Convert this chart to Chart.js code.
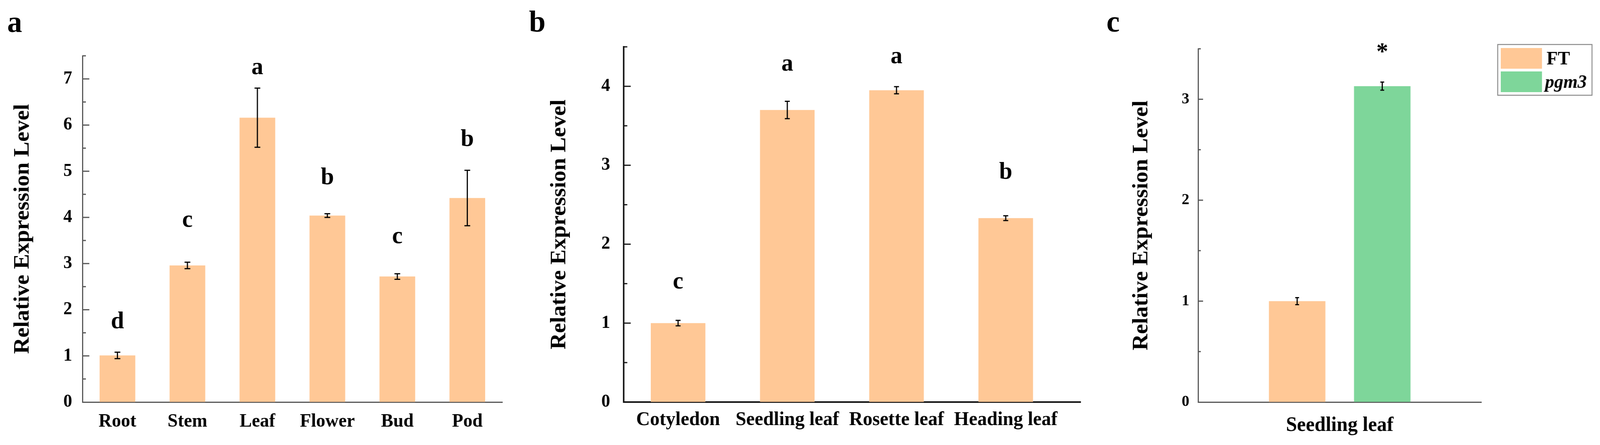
<!DOCTYPE html>
<html><head><meta charset="utf-8">
<script src="https://cdn.jsdelivr.net/npm/chart.js@4.4.1/dist/chart.umd.min.js"></script>
<style>
html,body{margin:0;padding:0;background:#fff;overflow:hidden;}
#wrap{position:relative;width:4192px;height:1140px;overflow:hidden;background:#fff;transform-origin:0 0;}
canvas{position:absolute;top:0;}
.pl{position:absolute;font:bold 78px/1 "Liberation Serif","Times New Roman",serif;color:#000;margin:0;}
</style></head>
<body><div id="wrap">
<div class="pl" style="left:19px;top:17px;">a</div>
<div class="pl" style="left:1386px;top:16px;">b</div>
<div class="pl" style="left:2899px;top:16px;">c</div>
<canvas id="ca" width="1380" height="1140" style="left:0px;width:1380px;height:1140px;"></canvas>
<canvas id="cb" width="1500" height="1140" style="left:1380px;width:1500px;height:1140px;"></canvas>
<canvas id="cc" width="1312" height="1140" style="left:2880px;width:1312px;height:1140px;"></canvas>
</div>
<script>
// ---------- data ----------
const catsA = ['Root', 'Stem', 'Leaf', 'Flower', 'Bud', 'Pod'];
const valuesA = [1.01, 2.96, 6.16, 4.04, 2.72, 4.42];
const errorsA = [0.07, 0.07, 0.64, 0.04, 0.06, 0.60];
const lettersA = ['d', 'c', 'a', 'b', 'c', 'b'];
const letterAtA = [1.60, 3.80, 7.10, 4.72, 3.44, 5.55];

const catsB = ['Cotyledon', 'Seedling leaf', 'Rosette leaf', 'Heading leaf'];
const valuesB = [1.00, 3.70, 3.95, 2.33];
const errorsB = [0.035, 0.11, 0.045, 0.03];
const lettersB = ['c', 'a', 'a', 'b'];
const letterAtB = [1.44, 4.20, 4.29, 2.83];

const catsC = ['Seedling leaf'];
const seriesC = ['FT', 'pgm3'];
const valuesFT = [1.00];
const errorsFT = [0.035];
const valuesPgm3 = [3.13];
const errorsPgm3 = [0.04];
const lettersPgm3 = ['*'];
const letterAtPgm3 = [3.40];

const yMaxA = 7.5, yMaxB = 4.5, yMaxC = 3.5;
const yStep = 0.5;
const yTitle = 'Relative Expression Level';

// ---------- fit page to the actual viewport ----------
(function fit() {
  const sx = window.innerWidth / 4192, sy = window.innerHeight / 1140;
  if (Math.abs(sx - 1) > 0.002 || Math.abs(sy - 1) > 0.002) {
    document.getElementById('wrap').style.transform = 'scale(' + sx + ',' + sy + ')';
  }
})();

// ---------- styles ----------
const FONT = '"Liberation Serif","Times New Roman",serif';
const PEACH = '#FFC896';
const GREEN = '#7ED69A';

function yTickCb(v) {
  return Math.abs(v - Math.round(v)) < 1e-6 ? String(Math.round(v)) : '';
}

const insideTicks = {
  id: 'insideTicks',
  afterDraw(chart, args, o) {
    const y = chart.scales.y, ctx = chart.ctx, left = chart.chartArea.left;
    ctx.save();
    ctx.strokeStyle = o.color; ctx.lineWidth = o.width;
    y.ticks.forEach(t => {
      if (t.value === 0) return;
      const p = y.getPixelForValue(t.value);
      const major = Math.abs(t.value - Math.round(t.value)) < 1e-6;
      ctx.beginPath();
      ctx.moveTo(left, p);
      ctx.lineTo(left + (major ? o.major : o.minor), p);
      ctx.stroke();
    });
    ctx.restore();
  }
};

const errorBars = {
  id: 'errorBars',
  afterDatasetsDraw(chart, args, o) {
    const ctx = chart.ctx, y = chart.scales.y;
    ctx.save();
    chart.data.datasets.forEach((ds, di) => {
      const meta = chart.getDatasetMeta(di);
      meta.data.forEach((bar, i) => {
        const v = ds.values[i], e = ds.errors[i];
        const x = bar.x;
        const yt = y.getPixelForValue(v + e), yb = y.getPixelForValue(v - e);
        ctx.strokeStyle = '#000'; ctx.lineWidth = o.width;
        ctx.beginPath();
        ctx.moveTo(x, yt); ctx.lineTo(x, yb);
        ctx.moveTo(x - o.cap / 2, yt); ctx.lineTo(x + o.cap / 2, yt);
        ctx.moveTo(x - o.cap / 2, yb); ctx.lineTo(x + o.cap / 2, yb);
        ctx.stroke();
        if (ds.letters && ds.letters[i]) {
          ctx.fillStyle = '#000';
          ctx.font = 'bold ' + o.letterSize + 'px ' + FONT;
          ctx.textAlign = 'center';
          ctx.textBaseline = 'alphabetic';
          ctx.fillText(ds.letters[i], x, y.getPixelForValue(ds.letterAt[i]));
        }
      });
    });
    ctx.restore();
  }
};

const boxLegend = {
  id: 'boxLegend',
  afterDraw(chart, args, o) {
    const ctx = chart.ctx;
    ctx.save();
    ctx.strokeStyle = '#8a8a8a'; ctx.lineWidth = 2.5;
    ctx.strokeRect(o.x, o.y, o.w, o.h);
    chart.data.datasets.forEach((ds, i) => {
      const it = o.items[i];
      ctx.fillStyle = ds.backgroundColor;
      ctx.fillRect(o.sx, it.sy, o.sw, it.sh);
      ctx.fillStyle = '#000';
      ctx.font = (it.italic ? 'italic ' : '') + 'bold ' + o.size + 'px ' + FONT;
      ctx.textAlign = 'left'; ctx.textBaseline = 'alphabetic';
      ctx.fillText(ds.label, it.tx, it.ty);
    });
    ctx.restore();
  }
};

function yScale(max, o) {
  return {
    min: 0, max: max,
    grid: { display: true, drawOnChartArea: false, drawTicks: false },
    border: { display: true, color: o.axisColor, width: o.axisWidth },
    ticks: { stepSize: yStep, callback: yTickCb, autoSkip: false, color: '#000',
             font: { family: FONT, size: o.tickSize, weight: 'bold' }, padding: o.tickPad },
    title: { display: true, text: yTitle, color: '#000',
             font: { family: FONT, size: 58, weight: 'bold' }, padding: 0 },
    afterFit: s => { s.width = o.yWidth; }
  };
}
function xStyle(o) {
  return {
    grid: { display: true, drawOnChartArea: false, drawTicks: false },
    border: { display: true, color: o.axisColor, width: o.axisWidth },
    ticks: { color: '#000', font: { family: FONT, size: o.labelSize, weight: 'bold' },
             padding: o.labelPad, maxRotation: 0, minRotation: 0, autoSkip: false },
    afterFit: s => { s.height = 110; }
  };
}
const base = { responsive: false, animation: false, devicePixelRatio: 1, events: [] };

// ---------- panel a ----------
new Chart(document.getElementById('ca'), {
  type: 'bar',
  data: { labels: catsA, datasets: [{
    label: 'FT', data: valuesA, values: valuesA, errors: errorsA, letters: lettersA, letterAt: letterAtA,
    backgroundColor: PEACH, borderWidth: 0, barPercentage: 0.51, categoryPercentage: 1 }] },
  options: Object.assign({}, base, {
    layout: { padding: { left: 25, top: 143, right: 64, bottom: 0 } },
    plugins: { legend: { display: false }, tooltip: { enabled: false },
      insideTicks: { color: '#555', width: 3, major: 18, minor: 9 },
      errorBars: { width: 3, cap: 15, letterSize: 62 } },
    scales: {
      x: xStyle({ axisColor: '#555', axisWidth: 3, labelSize: 48, labelPad: 22 }),
      y: yScale(yMaxA, { axisColor: '#555', axisWidth: 3, tickSize: 46, tickPad: 27, yWidth: 191 })
    }
  }),
  plugins: [insideTicks, errorBars]
});

// ---------- panel b ----------
const xB = xStyle({ axisColor: '#111', axisWidth: 4, labelSize: 50, labelPad: 16 });
Object.assign(xB, {
  type: 'linear', min: -0.5, max: 3.685, offset: false,
  afterBuildTicks: s => { s.ticks = catsB.map((c, i) => ({ value: i })); }
});
xB.ticks.callback = v => catsB[v];
new Chart(document.getElementById('cb'), {
  type: 'bar',
  data: { datasets: [{
    label: 'FT', data: catsB.map((c, i) => ({ x: i, y: valuesB[i] })),
    values: valuesB, errors: errorsB, letters: lettersB, letterAt: letterAtB,
    backgroundColor: PEACH, borderWidth: 0, barPercentage: 0.5, categoryPercentage: 1 }] },
  options: Object.assign({}, base, {
    layout: { padding: { left: 51, top: 120, right: 49, bottom: 0 } },
    plugins: { legend: { display: false }, tooltip: { enabled: false },
      insideTicks: { color: '#111', width: 3, major: 19, minor: 10 },
      errorBars: { width: 3, cap: 13, letterSize: 62 } },
    scales: {
      x: xB,
      y: yScale(yMaxB, { axisColor: '#111', axisWidth: 4, tickSize: 46, tickPad: 35, yWidth: 202.5 })
    }
  }),
  plugins: [insideTicks, errorBars]
});

// ---------- panel c ----------
new Chart(document.getElementById('cc'), {
  type: 'bar',
  data: { labels: catsC, datasets: [
    { label: seriesC[0], data: valuesFT, values: valuesFT, errors: errorsFT,
      backgroundColor: PEACH, borderWidth: 0, barPercentage: 0.664, categoryPercentage: 0.601 },
    { label: seriesC[1], data: valuesPgm3, values: valuesPgm3, errors: errorsPgm3,
      letters: lettersPgm3, letterAt: letterAtPgm3,
      backgroundColor: GREEN, borderWidth: 0, barPercentage: 0.664, categoryPercentage: 0.601 }
  ] },
  options: Object.assign({}, base, {
    layout: { padding: { left: 76, top: 125, right: 311, bottom: 0 } },
    plugins: { legend: { display: false }, tooltip: { enabled: false },
      insideTicks: { color: '#555', width: 3, major: 13, minor: 7 },
      errorBars: { width: 3, cap: 10, letterSize: 62 },
      boxLegend: { x: 1044, y: 114, w: 247, h: 130, sx: 1052, sw: 108, size: 48,
        items: [ { sy: 123, sh: 53, tx: 1172, ty: 165, italic: false },
                 { sy: 183, sh: 53, tx: 1168, ty: 225, italic: true } ] } },
    scales: {
      x: xStyle({ axisColor: '#555', axisWidth: 3, labelSize: 52, labelPad: 29 }),
      y: yScale(yMaxC, { axisColor: '#555', axisWidth: 3, tickSize: 40, tickPad: 23, yWidth: 183 })
    }
  }),
  plugins: [insideTicks, errorBars, boxLegend]
});
</script>
</body></html>
